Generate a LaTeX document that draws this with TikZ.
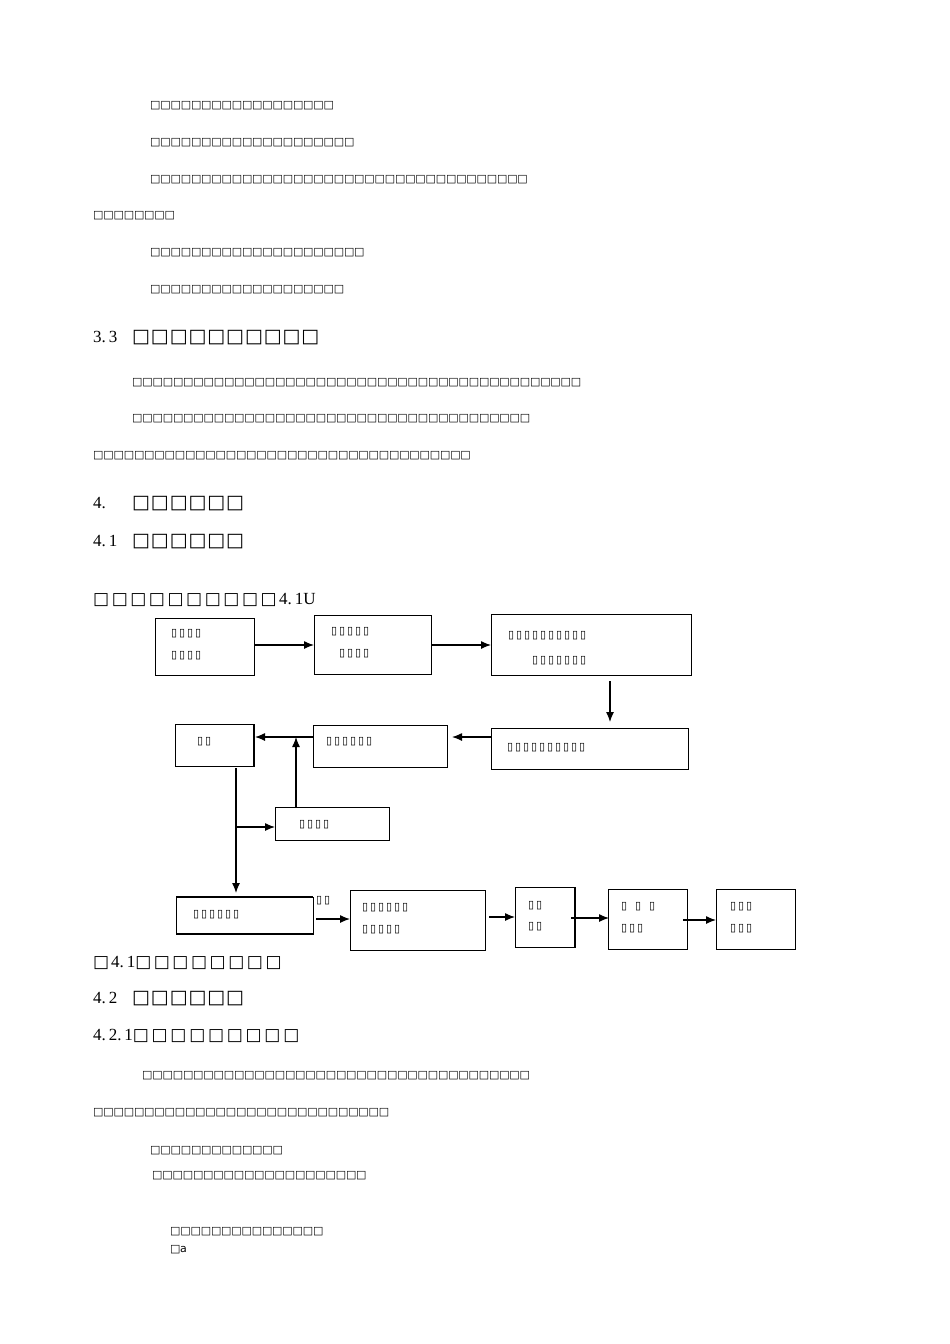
\documentclass[tikz,border=0pt]{standalone}
\usepackage{fontspec}
\setmainfont{Liberation Serif}
\newfontfamily\dv{DejaVu Sans}
\usetikzlibrary{arrows.meta}
\newcommand\bxs[2]{\foreach\i in{1,...,#1}{\makebox[#2][l]{\dv □}}}
\newcommand\bxsmall[1]{{\fontsize{11}{11}\selectfont\bxs{#1}{10.2pt}}}
\newcommand\bxbig[1]{{\fontsize{19}{19}\selectfont\bxs{#1}{18.8pt}}}
\newcommand\vb[1]{{\fontsize{11}{11}\selectfont\foreach\i in{1,...,#1}{\makebox[8pt][l]{\dv ▯}}}}
\begin{document}
\begin{tikzpicture}[x=1pt,y=-1pt,
  t/.style={anchor=west,inner sep=0pt},
  bx/.style={draw,line width=0.9pt},
  ar/.style={line width=1.2pt,-{Latex[length=10pt,width=8pt]}}]
\useasboundingbox (0,0) rectangle (950,1344);
% body text
\node[t] (l1) at (150,106) {\bxsmall{18}};
\node[t] (l2) at (150,143) {\bxsmall{20}};
\node[t] (l3) at (150,180) {\bxsmall{37}};
\node[t] (l4) at (93,216) {\bxsmall{8}};
\node[t] (l5) at (150,253) {\bxsmall{21}};
\node[t] (l6) at (150,290) {\bxsmall{19}};
\node[t] (h33) at (93,338) {\fontsize{17}{17}\selectfont\makebox[39pt][l]{3.\,3}\bxbig{10}};
\node[t] (p1) at (132,383) {\bxsmall{44}};
\node[t] (p2) at (132,419) {\bxsmall{39}};
\node[t] (p3) at (93,456) {\bxsmall{37}};
\node[t] (h4) at (93,504) {\fontsize{17}{17}\selectfont\makebox[39pt][l]{4.}\bxbig{6}};
\node[t] (h41) at (93,542) {\fontsize{17}{17}\selectfont\makebox[39pt][l]{4.\,1}\bxbig{6}};
\node[t] (fig) at (93,600) {\fontsize{17}{17}\selectfont\bxs{10}{18.6pt}4.\,1U};
\node[t] (cap) at (93,963) {\fontsize{17}{17}\selectfont\bxs{1}{18pt}4.\,1\bxs{8}{18.6pt}};
\node[t] (h42) at (93,999) {\fontsize{17}{17}\selectfont\makebox[39pt][l]{4.\,2}\bxbig{6}};
\node[t] (h421) at (93,1036) {\fontsize{17}{17}\selectfont 4.\,2.\,1\bxs{9}{18.8pt}};
\node[t] (q1) at (142,1076) {\bxsmall{38}};
\node[t] (q2) at (93,1113) {\bxsmall{29}};
\node[t] (q3) at (150,1151) {\bxsmall{13}};
\node[t] (q4) at (152,1176) {\bxsmall{21}};
\node[t] (q5) at (170,1232) {\bxsmall{15}};
\node[t] (q6) at (170,1250) {\fontsize{11}{11}\selectfont\bxs{1}{10pt}{\dv a}};
% diagram boxes
\draw[bx] (155,618) rectangle (254,675);
\node[t] at (171,634) {\vb{4}}; \node[t] at (171,656) {\vb{4}};
\draw[bx] (314,615) rectangle (431,674);
\node[t] at (331,632) {\vb{5}}; \node[t] at (339,654) {\vb{4}};
\draw[bx] (491,614) rectangle (691,675);
\node[t] at (508,636) {\vb{10}}; \node[t] at (532,661) {\vb{7}};
\draw[bx] (491,728) rectangle (688,769);
\node[t] at (507,748) {\vb{10}};
\draw[bx] (313,725) rectangle (447,767);
\node[t] at (326,742) {\vb{6}};
\draw[bx] (175,724) rectangle (254,766); \draw[line width=1.6pt] (254,724)--(254,766);
\node[t] at (197,742) {\vb{2}};
\draw[bx] (275,807) rectangle (389,840);
\node[t] at (299,825) {\vb{4}};
\draw[bx] (176,897) rectangle (313,934);
\draw[line width=1.8pt] (176,897)--(313,897) (176,934)--(313,934);
\node[t] at (193,915) {\vb{6}};
\node[t] at (316,901) {\vb{2}};
\draw[bx] (350,890) rectangle (485,950);
\node[t] at (362,908) {\vb{6}}; \node[t] at (362,930) {\vb{5}};
\draw[bx] (515,887) rectangle (575,947); \draw[line width=1.6pt] (575,887)--(575,947);
\node[t] at (528,906) {\vb{2}}; \node[t] at (528,927) {\vb{2}};
\draw[bx] (608,889) rectangle (687,949);
\node[t] at (621,907) {\vb{1}\hspace{6pt}\vb{1}\hspace{6pt}\vb{1}}; \node[t] at (621,929) {\vb{3}};
\draw[bx] (716,889) rectangle (795,949);
\node[t] at (730,907) {\vb{3}}; \node[t] at (730,929) {\vb{3}};
% connectors
\coordinate (a1) at (254,645); \coordinate (b1) at (314,645);
\coordinate (b2) at (431,645); \coordinate (c1) at (491,645);
\coordinate (c2) at (610,681); \coordinate (d1) at (610,722);
\coordinate (d2) at (491,737); \coordinate (e1) at (452,737);
\coordinate (e2) at (313,737); \coordinate (f1) at (255,737);
\coordinate (g1) at (296,807); \coordinate (g2) at (296,737);
\coordinate (v1) at (236,768); \coordinate (v2) at (236,893);
\coordinate (br) at (236,827); \coordinate (g0) at (275,827);
\coordinate (h1) at (316,919); \coordinate (i1) at (350,919);
\coordinate (i2) at (489,917); \coordinate (j1) at (515,917);
\coordinate (j2) at (571,918); \coordinate (k1) at (609,918);
\coordinate (k2) at (683,920); \coordinate (l1c) at (716,920);
\draw[ar] (a1)--(b1); \draw[ar] (b2)--(c1); \draw[ar] (c2)--(d1);
\draw[ar] (d2)--(e1); \draw[ar] (e2)--(f1); \draw[ar] (g1)--(g2);
\draw[ar] (v1)--(v2); \draw[ar] (br)--(g0);
\draw[ar] (h1)--(i1); \draw[ar] (i2)--(j1); \draw[ar] (j2)--(k1); \draw[ar] (k2)--(l1c);
\end{tikzpicture}
\end{document}
